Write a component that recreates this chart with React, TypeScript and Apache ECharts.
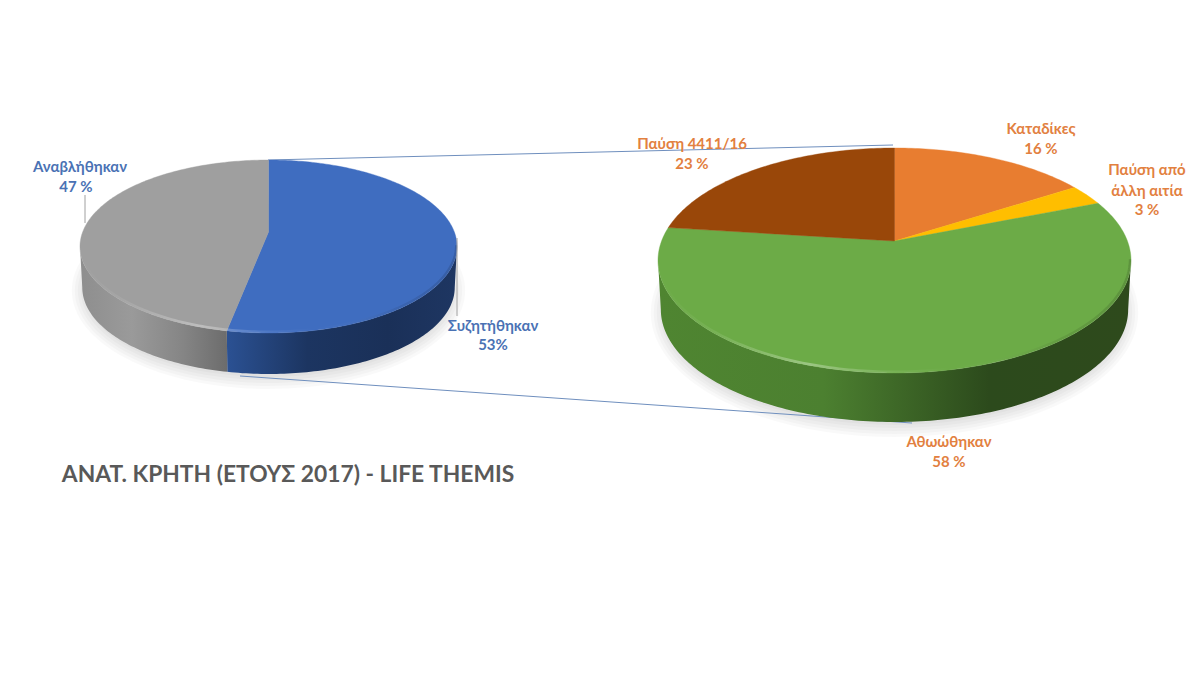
import React, { useEffect, useRef } from "react";
import * as echarts from "echarts";

const leftCategories = ["Συζητήθηκαν", "Αναβλήθηκαν"];
const leftValues = [53, 47];
const leftPercentLabels = ["53%", "47 %"];
const rightCategories = ["Καταδίκες", "Παύση από άλλη αιτία", "Αθωώθηκαν", "Παύση 4411/16"];
const rightValues = [16, 3, 58, 23];
const rightPercentLabels = ["16 %", "3 %", "58 %", "23 %"];
const titleText = "ΑΝΑΤ. ΚΡΉΤΗ (ΕΤΟΥΣ 2017) - LIFE THEMIS";

type Geo = { cx: number; apexY: number; far: number; near: number; rx: number; depth: number };
const leftGeo: Geo = { cx: 268.5, apexY: 232, far: 72, near: 101, rx: 188.5, depth: 41 };
const rightGeo: Geo = { cx: 894.5, apexY: 241, far: 93, near: 132, rx: 236.5, depth: 49 };

const leftTop = ["#3F6DC0", "#9F9F9F"];
const leftWall = [
  ["#2B5193", "#1C3561", "#1A3058", "#1E3662"],
  ["#8E8E8E", "#9A9A9A", "#858585", "#6C6C6C"],
];
const rightTop = ["#E87D30", "#FFBE00", "#6CAB47", "#994709"];
const rightWall = [
  ["#8A4A1C", "#8A4A1C", "#8A4A1C", "#8A4A1C"],
  ["#8F6C00", "#8F6C00", "#8F6C00", "#8F6C00"],
  ["#4F8531", "#4C8030", "#2C4A1C", "#2E4A1C"],
  ["#5F2C06", "#5F2C06", "#5F2C06", "#5F2C06"],
];

const FONT = "Lato, 'Open Sans', 'Noto Sans', sans-serif";
const LABEL_BLUE = "#4A72B4";
const LABEL_ORANGE = "#E28040";
const CONNECTOR = "#6F8FBE";
const LEADER = "#A0A0A0";
const SHADOW_SPREADS = [12, 9, 6, 3, 0];

function project(g: Geo, deg: number): [number, number] {
  const k = (g.near - g.far) / (g.near + g.far);
  const A = g.far * (1 + k);
  const B = g.rx * Math.sqrt(1 - k * k);
  const t = (deg * Math.PI) / 180;
  const x = Math.sin(t);
  const z = Math.cos(t);
  const s = 1 / (1 + k * z);
  return [g.cx + B * x * s, g.apexY - A * z * s];
}

function rim(g: Geo, a: number, b: number, dy = 0, sx = 1): number[][] {
  const pts: number[][] = [];
  const n = Math.max(2, Math.ceil(Math.abs(b - a)));
  for (let i = 0; i <= n; i++) {
    const [x, y] = project(g, a + ((b - a) * i) / n);
    pts.push([g.cx + (x - g.cx) * sx, y + dy]);
  }
  return pts;
}

function sliceRange(values: number[], i: number): [number, number] {
  const total = values.reduce((s, v) => s + v, 0);
  let acc = 0;
  for (let j = 0; j < i; j++) acc += values[j];
  return [(acc / total) * 360, ((acc + values[i]) / total) * 360];
}

function frontRange(g: Geo): [number, number] {
  const k = (g.near - g.far) / (g.near + g.far);
  const f = (Math.acos(-k) * 180) / Math.PI;
  return [f, 360 - f];
}

function wallSeries(name: string, g: Geo, values: number[], stops: string[][]) {
  return {
    type: "custom",
    name: name + " side",
    coordinateSystem: "none",
    z: 2,
    silent: true,
    data: values.map((v, i) => [v, i]),
    renderItem: (params: any) => {
      const [a0, b0] = sliceRange(values, params.dataIndex);
      const [f0, f1] = frontRange(g);
      const a = Math.max(a0, f0);
      const b = Math.min(b0, f1);
      if (b <= a) return { type: "group", children: [] };
      const upper = rim(g, a, b);
      const lower = rim(g, a, b, g.depth, 0.988).reverse();
      const c = stops[params.dataIndex];
      return {
        type: "polygon",
        shape: { points: upper.concat(lower) },
        style: {
          fill: new echarts.graphic.LinearGradient(0, 0, 1, 0, [
            { offset: 0, color: c[0] },
            { offset: 0.35, color: c[1] },
            { offset: 0.7, color: c[2] },
            { offset: 1, color: c[3] },
          ]),
        },
      };
    },
  };
}

function topSeries(name: string, g: Geo, values: number[], colors: string[]) {
  return {
    type: "custom",
    name,
    coordinateSystem: "none",
    z: 3,
    silent: true,
    data: values.map((v, i) => [v, i]),
    renderItem: (params: any) => {
      const [a, b] = sliceRange(values, params.dataIndex);
      const points = [[g.cx, g.apexY] as number[]].concat(rim(g, a, b));
      return {
        type: "polygon",
        shape: { points },
        style: { fill: colors[params.dataIndex], stroke: colors[params.dataIndex], lineWidth: 0.4 },
      };
    },
  };
}

function bevelSeries(name: string, g: Geo) {
  return {
    type: "custom",
    name: name + " bevel",
    coordinateSystem: "none",
    z: 4,
    silent: true,
    data: [[0]],
    renderItem: () => {
      const [f0, f1] = frontRange(g);
      return {
        type: "polyline",
        shape: { points: rim(g, f0, f1, -1.2, 0.996) },
        style: {
          fill: null,
          lineWidth: 2.5,
          stroke: new echarts.graphic.LinearGradient(0, 0, 1, 0, [
            { offset: 0, color: "rgba(255,255,255,0.0)" },
            { offset: 0.12, color: "rgba(255,255,255,0.08)" },
            { offset: 0.32, color: "rgba(255,255,255,0.32)" },
            { offset: 0.5, color: "rgba(255,255,255,0.08)" },
            { offset: 0.62, color: "rgba(255,255,255,0.0)" },
            { offset: 0.85, color: "rgba(0,0,0,0.08)" },
            { offset: 1, color: "rgba(0,0,0,0.14)" },
          ]),
        },
      };
    },
  };
}

function shadows(g: Geo) {
  const top = g.apexY - g.far;
  const bottom = g.apexY + g.near;
  return SHADOW_SPREADS.map((spread) => ({
    type: "ellipse",
    z: 0,
    silent: true,
    shape: {
      cx: g.cx,
      cy: (top + bottom) / 2 + g.depth + 3,
      rx: g.rx * 0.98 + spread,
      ry: (bottom - top) / 2 + spread,
    },
    style: { fill: "rgba(0,0,0,0.022)" },
  }));
}

function label(text: string, x: number, y: number, color: string, size = 15) {
  return {
    type: "text",
    z: 10,
    silent: true,
    x,
    y,
    style: { text, fill: color, font: `bold ${size}px ${FONT}`, align: "center", verticalAlign: "middle" },
  };
}

function line(x1: number, y1: number, x2: number, y2: number, stroke: string, z = 1) {
  return { type: "line", z, silent: true, shape: { x1, y1, x2, y2 }, style: { stroke, lineWidth: 1 } };
}

export default function App() {
  const ref = useRef<HTMLDivElement>(null);
  useEffect(() => {
    const chart = echarts.init(ref.current!, null, { renderer: "svg" });
    chart.setOption({
      animation: false,
      backgroundColor: "#ffffff",
      graphic: [
        ...shadows(leftGeo),
        ...shadows(rightGeo),
        line(268, 160, 893, 145, CONNECTOR),
        line(240, 376, 912, 423, CONNECTOR),
        line(85, 195, 85, 223, LEADER, 5),
        line(457, 238, 457, 316, LEADER, 5),
        label(leftCategories[1], 80, 166, LABEL_BLUE),
        label(leftPercentLabels[1], 76, 186, LABEL_BLUE),
        label(leftCategories[0], 493, 325, LABEL_BLUE),
        label(leftPercentLabels[0], 493, 344, LABEL_BLUE),
        label(rightCategories[0], 1041, 128, LABEL_ORANGE),
        label(rightPercentLabels[0], 1041, 148, LABEL_ORANGE),
        label("Παύση από", 1147, 169, LABEL_ORANGE),
        label("άλλη αιτία", 1147, 190, LABEL_ORANGE),
        label(rightPercentLabels[1], 1147, 209, LABEL_ORANGE),
        label(rightCategories[3], 692, 143, LABEL_ORANGE),
        label(rightPercentLabels[3], 692, 163, LABEL_ORANGE),
        label(rightCategories[2], 949, 441, LABEL_ORANGE),
        label(rightPercentLabels[2], 949, 461, LABEL_ORANGE),
        label(titleText, 288, 473, "#595959", 22.8),
      ],
      series: [
        wallSeries("Συζήτηση", leftGeo, leftValues, leftWall),
        topSeries("Συζήτηση", leftGeo, leftValues, leftTop),
        bevelSeries("Συζήτηση", leftGeo),
        wallSeries("Έκβαση", rightGeo, rightValues, rightWall),
        topSeries("Έκβαση", rightGeo, rightValues, rightTop),
        bevelSeries("Έκβαση", rightGeo),
      ],
    });
    return () => chart.dispose();
  }, []);
  return <div ref={ref} style={{ position: "absolute", left: 0, top: 0, width: 1200, height: 675 }} />;
}
